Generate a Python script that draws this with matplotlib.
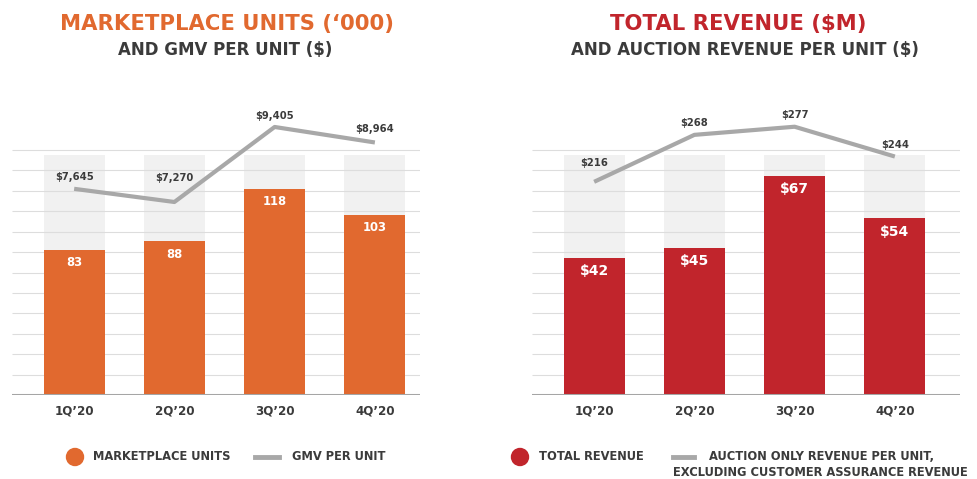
import numpy as np
import matplotlib
matplotlib.use("Agg")
import matplotlib.pyplot as plt
from matplotlib.lines import Line2D
from matplotlib.patches import Ellipse

# Data
quarters = ["1Q’20", "2Q’20", "3Q’20", "4Q’20"]
units = [83, 88, 118, 103]
gmv_per_unit = [7645, 7270, 9405, 8964]
revenue = [42, 45, 67, 54]
auction_rev_per_unit = [216, 268, 277, 244]

plt.rcParams["font.family"] = "DejaVu Sans"

ORANGE = "#E1692F"
RED = "#C1252C"
GREY_LINE = "#A8A8A8"
DARK = "#3B3B3B"
W, H = 978, 479


def fx(px):
    return px / W


def fy(py):
    return 1 - py / H


fig = plt.figure(figsize=(9.78, 4.79), dpi=100)
fig.patch.set_facecolor("white")


def panel(rect, bars, line, color, bar_top, line_lim, xlim, bar_fmt, line_fmt,
          bar_fs, line_offsets):
    ax = fig.add_axes(rect)
    x = np.arange(len(bars))
    w = 0.61
    # light grey columns behind the bars
    for xi in x:
        ax.axvspan(xi - w / 2, xi + w / 2, ymin=0, ymax=240 / 295,
                   color="#F1F1F1", lw=0, zorder=1)
    # horizontal guide lines
    fr = np.linspace(0, 245 / 295, 13)[1:]
    ax.hlines(fr, 0, 1, transform=ax.transAxes, color="#DDDDDD", lw=0.8, zorder=2)
    ax.axhline(0, color="#A5A5A5", lw=2.2, zorder=4)

    ax.bar(x, bars, width=w, color=color, zorder=3)
    for xi, v in zip(x, bars):
        ax.annotate(bar_fmt.format(v), (xi, v), xytext=(0, -9.5),
                    textcoords="offset points", ha="center", va="center",
                    color="white", weight="bold", fontsize=bar_fs, zorder=5)
    ax.set_ylim(0, bar_top)
    ax.set_xlim(*xlim)
    ax.set_xticks(x, quarters)
    ax.tick_params(axis="x", length=0, pad=7, labelsize=8.6, labelcolor=DARK)
    for t in ax.get_xticklabels():
        t.set_fontweight("bold")
    ax.set_yticks([])
    for s in ax.spines.values():
        s.set_visible(False)

    ax2 = ax.twinx()
    ax2.plot(x, line, color=GREY_LINE, lw=3, solid_capstyle="butt", zorder=3)
    for xi, v, off in zip(x, line, line_offsets):
        ax2.annotate(line_fmt.format(v), (xi, v), xytext=(0, off * 0.72),
                     textcoords="offset points", ha="center", va="center",
                     color=DARK, weight="bold", fontsize=7.2)
    ax2.set_ylim(*line_lim)
    ax2.set_yticks([])
    for s in ax2.spines.values():
        s.set_visible(False)
    return ax


panel([fx(12), 84 / H, fx(408), 295 / H], units, gmv_per_unit, ORANGE,
      168.6, (1776, 10173), (-0.62, 3.45), "{}", "${:,}", 8.4, [12, 24, 11, 13])
panel([fx(532), 84 / H, fx(428), 295 / H], revenue, auction_rev_per_unit, RED,
      90.2, (-20.1, 306.6), (-0.62, 3.65), "${}", "${}", 10, [19, 12, 12, 12])

# Titles
title_kw = dict(ha="center", va="center", weight="bold")
fig.text(fx(227), fy(24), "MARKETPLACE UNITS (‘000)", color=ORANGE, fontsize=15.2, **title_kw)
fig.text(fx(225), fy(50), "AND GMV PER UNIT ($)", color=DARK, fontsize=12, **title_kw)
fig.text(fx(738), fy(24), "TOTAL REVENUE ($M)", color=RED, fontsize=15.2, **title_kw)
fig.text(fx(745), fy(50), "AND AUCTION REVENUE PER UNIT ($)", color=DARK, fontsize=12, **title_kw)

# Legends
ly = fy(457)
for cx, col in [(75, ORANGE), (520, RED)]:
    fig.add_artist(Ellipse((fx(cx), ly), fx(17), 17 / H, color=col,
                           transform=fig.transFigure))
for x0, x1 in [(255, 279), (673, 694)]:
    fig.add_artist(Line2D([fx(x0), fx(x1)], [ly, ly], color=GREY_LINE, lw=3.5,
                          transform=fig.transFigure))
leg_kw = dict(va="center", color=DARK, weight="bold", fontsize=8.3)
fig.text(fx(93), ly, "MARKETPLACE UNITS", **leg_kw)
fig.text(fx(292), ly, "GMV PER UNIT", **leg_kw)
fig.text(fx(539), ly, "TOTAL REVENUE", **leg_kw)
fig.text(fx(709), ly, "AUCTION ONLY REVENUE PER UNIT,", **leg_kw)
fig.text(fx(673), fy(473), "EXCLUDING CUSTOMER ASSURANCE REVENUE", **leg_kw)

fig.savefig("out.png", dpi=100)
